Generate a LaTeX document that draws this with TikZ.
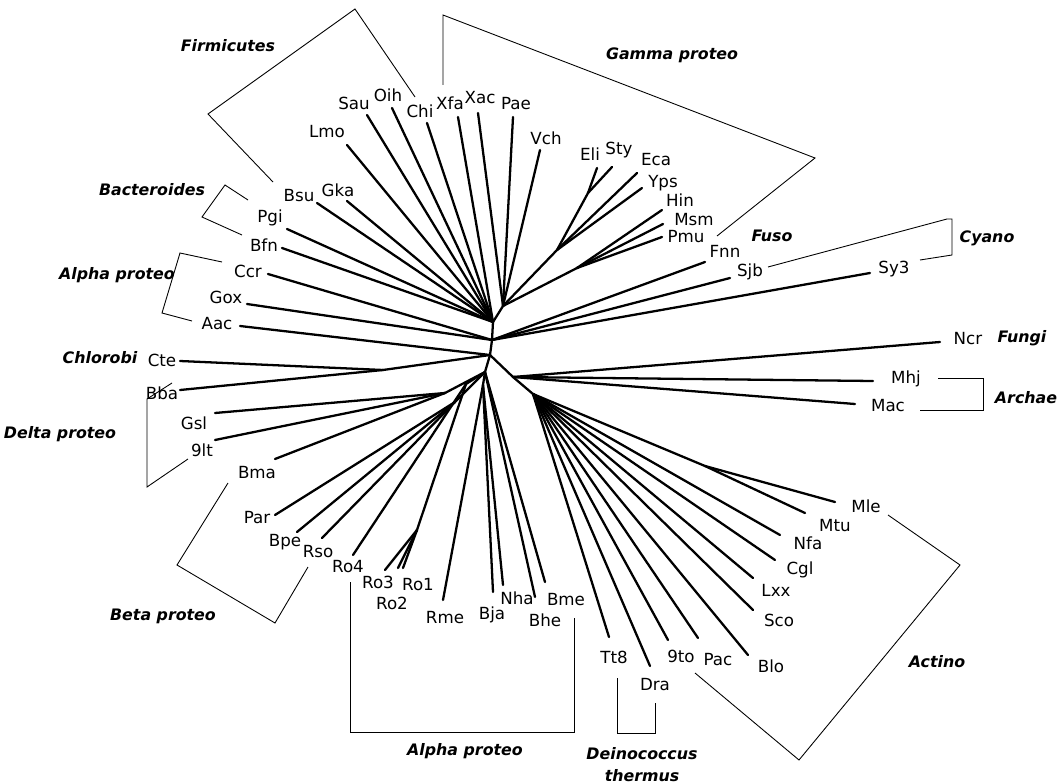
\documentclass[tikz,border=0pt]{standalone}
\usepackage{fontspec}
\setmainfont{DejaVu Sans}
\begin{document}
\begin{tikzpicture}[x=0.02cm,y=-0.02cm,
  branch/.style={line width=1.3pt,line cap=round,line join=round},
  bracket/.style={line width=0.5pt},
  leaf/.style={font=\fontsize{9.5}{11}\selectfont,inner sep=0pt},
  grp/.style={font=\fontsize{9}{11}\selectfont\bfseries\itshape,inner sep=0pt,align=center}]
\fill[white] (0,0) rectangle (1062,784);
\useasboundingbox (0,0) rectangle (1062,784);
% internal junctions
\coordinate (N1) at (493,322);
\coordinate (NG) at (503,306);
\coordinate (N2) at (492,340);
\coordinate (N3) at (490,355);
\coordinate (N4) at (485,372);
\coordinate (NR) at (513,377);
\coordinate (NA) at (533,394);
\coordinate (G2) at (557,250);
\coordinate (ES) at (588,193);
\coordinate (G3) at (577,268);
\coordinate (CB) at (383,370);
\coordinate (MM) at (705,466);
\coordinate (DL) at (445,393);
\coordinate (BP) at (455,402);
\coordinate (LA) at (466,384);
\coordinate (RJ) at (417,530);
\coordinate (LB) at (483,385);
% leaves
\foreach \n/\ex/\ey/\lx/\ly in {
Lmo/347/145/327/132, Sau/367/115/354/103, Oih/392/108/388/95,
Chi/427/123/420/111, Xfa/458/117/450/103, Xac/478/113/480/98,
Pae/513/117/516/104, Vch/540/150/546/138, Eli/597/168/590/154,
Sty/612/167/619/150, Eca/637/173/656/160, Yps/642/188/663/183,
Hin/662/210/680/200, Msm/663/224/694/220, Pmu/662/237/686/237,
Fnn/705/262/725/251, Sjb/730/278/750/272, Sy3/870/273/894/269,
Ncr/940/342/968/339, Mhj/873/381/906/379, Mac/855/404/888/406,
Mle/835/502/866/506, Mtu/805/513/835/526, Nfa/780/535/808/543,
Cgl/775/560/800/570, Lxx/753/578/776/590, Sco/753/610/779/620,
Blo/748/655/771/666, Pac/698/638/718/660, 9to/668/640/681/656,
Dra/650/666/655/685, Tt8/609/637/614/657, Bme/545/582/566/600,
Bhe/535/597/545/620, Nha/503/585/517/598, Bja/493/592/492/615,
Rme/443/600/445/618, Ro1/403/568/418/585, Ro2/398/568/392/603,
Ro3/385/570/378/582, Ro4/353/555/348/567, Rso/322/538/318/552,
Bpe/297/532/285/542, Par/275/515/257/518, Bma/275/459/257/473,
9lt/215/440/202/450, Gsl/215/413/194/423, Bba/180/390/162/393,
Cte/180/361/162/360, Aac/240/326/217/324, Gox/247/304/226/297,
Ccr/268/274/248/271, Bfn/282/248/264/245, Pgi/287/229/270/218,
Bsu/317/203/299/196, Gka/347/201/338/190}
{
  \coordinate (e\n) at (\ex,\ey);
  \node[leaf] (l\n) at (\lx,\ly) {\n};
}
% branches
\foreach \a/\b in {
N1/NG, N1/N2, N2/N3, N3/N4, N3/NR, NR/NA,
NG/G2, NG/G3, G2/ES, ES/eEli, ES/eSty, G2/eEca, G2/eYps,
G3/eHin, G3/eMsm, G3/ePmu,
NG/eXac, NG/ePae, NG/eVch,
N1/eLmo, N1/eSau, N1/eOih, N1/eChi, N1/eXfa, N1/eGka, N1/eBsu, N1/ePgi, N1/eBfn,
N2/eCcr, N2/eGox, N2/eFnn, N2/eSjb, N2/eSy3,
N3/eAac, N3/CB, CB/eCte, CB/eBba,
NR/eNcr, NR/eMhj, NR/eMac,
NA/MM, MM/eMle, MM/eMtu, NA/eNfa, NA/eCgl, NA/eLxx, NA/eSco, NA/eBlo,
NA/ePac, NA/e9to, NA/eDra, NA/eTt8,
N4/DL, DL/eGsl, DL/e9lt, DL/eBma,
N4/BP, BP/ePar, BP/eBpe, BP/eRso,
N4/LA, LA/eRo4, LA/RJ, RJ/eRo1, RJ/eRo2, RJ/eRo3,
N4/LB, LB/eRme, LB/eBja, LB/eNha,
N4/eBhe, N4/eBme}
{ \draw[branch] (\a) -- (\b); }
% group brackets
\coordinate (fa) at (273,182); \coordinate (fb) at (208,114);
\coordinate (fc) at (355,9);   \coordinate (fd) at (415,97);
\draw[bracket] (fa) -- (fb) -- (fc) -- (fd);
\coordinate (ga) at (443,85);  \coordinate (gb) at (443,15);
\coordinate (gc) at (815,158); \coordinate (gd) at (717,236);
\draw[bracket] (ga) -- (gb) -- (gc) -- (gd);
\coordinate (ba) at (248,200); \coordinate (bb) at (225,185);
\coordinate (bc) at (202,217); \coordinate (bd) at (242,235);
\draw[bracket] (ba) -- (bb) -- (bc) -- (bd);
\coordinate (aa) at (222,262); \coordinate (ab) at (180,253);
\coordinate (ac) at (162,313); \coordinate (ad) at (192,321);
\draw[bracket] (aa) -- (ab) -- (ac) -- (ad);
\coordinate (da) at (172,383); \coordinate (db) at (147,399);
\coordinate (dc) at (147,487); \coordinate (dd) at (188,459);
\draw[bracket] (da) -- (db) -- (dc) -- (dd);
\coordinate (ea) at (228,483); \coordinate (eb) at (177,565);
\coordinate (ec) at (275,623); \coordinate (ed) at (308,567);
\draw[bracket] (ea) -- (eb) -- (ec) -- (ed);
\coordinate (pa) at (350,582); \coordinate (pb) at (350,732);
\coordinate (pc) at (574,732); \coordinate (pd) at (574,618);
\draw[bracket] (pa) -- (pb) -- (pc) -- (pd);
\coordinate (ta) at (617,678); \coordinate (tb) at (617,733);
\coordinate (tc) at (655,733); \coordinate (td) at (655,703);
\draw[bracket] (ta) -- (tb) -- (tc) -- (td);
\coordinate (ka) at (888,515); \coordinate (kb) at (960,565);
\coordinate (kc) at (799,760); \coordinate (kd) at (695,673);
\draw[bracket] (ka) -- (kb) -- (kc) -- (kd);
\coordinate (ra) at (938,378); \coordinate (rb) at (983,378);
\coordinate (rc) at (983,410); \coordinate (rd) at (920,410);
\draw[bracket] (ra) -- (rb) -- (rc) -- (rd);
\coordinate (ca) at (768,267); \coordinate (cb) at (947,219);
\coordinate (cc) at (952,219); \coordinate (cd) at (952,255);
\coordinate (ce) at (920,260);
\draw[bracket] (ca) -- (cb) -- (cc) -- (cd) -- (ce);
% group labels
\node[grp] (gFir) at (228,46) {Firmicutes};
\node[grp] (gGam) at (672,55) {Gamma proteo};
\node[grp] (gBac) at (152,190) {Bacteroides};
\node[grp] (gAl1) at (117,275) {Alpha proteo};
\node[grp] (gChl) at (100,358) {Chlorobi};
\node[grp] (gDel) at (60,434) {Delta proteo};
\node[grp] (gBet) at (163,616) {Beta proteo};
\node[grp] (gAl2) at (465,751) {Alpha proteo};
\node[grp] (gDei) at (642,754) {Deinococcus};
\node[grp] (gThe) at (642,776) {thermus};
\node[grp] (gAct) at (937,662) {Actino};
\node[grp] (gArc) at (1026,398) {Archae};
\node[grp] (gFun) at (1022,338) {Fungi};
\node[grp] (gCya) at (987,238) {Cyano};
\node[grp] (gFus) at (772,236) {Fuso};
\end{tikzpicture}
\end{document}
